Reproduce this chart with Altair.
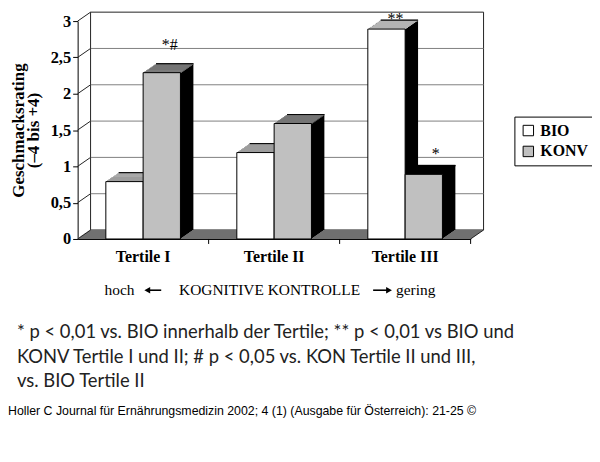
import altair as alt
import pandas as pd

# ---------------- data ----------------
tertiles = ["Tertile I", "Tertile II", "Tertile III"]
groups = ["BIO", "KONV"]
bio_values = [0.79, 1.19, 2.89]
konv_values = [2.29, 1.59, 0.89]
y_ticks = [0, 0.5, 1, 1.5, 2, 2.5, 3]
ann_tertile = ["Tertile I", "Tertile III", "Tertile III"]
ann_group = ["KONV", "BIO", "KONV"]
ann_text = ["*#", "**", "*"]
y_title = ["Geschmacksrating", "(–4 bis +4)"]
axis_note = ["hoch", "KOGNITIVE KONTROLLE", "gering"]
footnote = [
    "* p < 0,01 vs. BIO innerhalb der Tertile; ** p < 0,01 vs BIO und",
    "KONV Tertile I und II; # p < 0,05 vs. KON Tertile II und III,",
    "vs. BIO Tertile II",
]
citation = "Holler C Journal für Ernährungsmedizin 2002; 4 (1) (Ausgabe für Österreich): 21-25 ©"

# ---------------- geometry / style ----------------
W, H = 395, 219
DX, DY = 13.0, 9.0
NS = 9
HALF = 18.75
SERIF = "Liberation Serif"

df_bio = pd.DataFrame({"tertile": tertiles, "group": "BIO", "value": bio_values})
df_konv = pd.DataFrame({"tertile": tertiles, "group": "KONV", "value": konv_values})
df_all = pd.concat([df_bio, df_konv], ignore_index=True)
df_ticks = pd.DataFrame({"level": y_ticks})
df_grid = pd.DataFrame({"level": y_ticks[1:-1]})
one = pd.DataFrame({"a": [0]})

X = alt.X(
    "tertile:N",
    scale=alt.Scale(domain=tertiles, paddingInner=0.7152, paddingOuter=0.3576),
    sort=tertiles,
    axis=alt.Axis(
        title=None, ticks=False, domainColor="black", domainWidth=1,
        labelFont=SERIF, labelFontWeight="bold", labelFontSize=16,
        labelColor="black", labelPadding=10, labelAngle=0,
    ),
)
YSCALE = alt.Scale(domain=[0, 3], nice=False, zero=True)
YAXIS = alt.Axis(
    title=None, values=y_ticks, grid=False, domainColor="black", tickColor="black",
    tickSize=5, labelFont=SERIF, labelFontWeight="bold", labelFontSize=16.5,
    labelColor="black", labelPadding=2,
    labelExpr="replace(format(datum.value, '.1~f'), '.', ',')",
)


def Yq(field):
    return alt.Y(field, type="quantitative", scale=YSCALE, axis=YAXIS)


layers = []

# back wall
layers.append(
    alt.Chart(one).mark_rect(fill="white", stroke="#222", strokeWidth=1,
                             yOffset=-DY, y2Offset=-DY)
    .encode(x=alt.value(DX), x2=alt.value(W + DX),
            y=alt.YDatum(3, scale=YSCALE, axis=YAXIS), y2=alt.datum(0))
)
# back-wall gridlines
layers.append(
    alt.Chart(df_grid).mark_rule(color="#808080", strokeWidth=1, yOffset=-DY)
    .encode(x=alt.value(DX), x2=alt.value(W + DX), y=Yq("level"))
)
# floor (dark parallelogram)
for k in range(NS):
    layers.append(
        alt.Chart(one).mark_rect(fill="#707070", yOffset=-(k + 1) * DY / NS - 0.3,
                                 y2Offset=-k * DY / NS)
        .encode(x=alt.value((k + 0.5) * DX / NS), x2=alt.value(W + (k + 0.5) * DX / NS),
                y=alt.YDatum(0, scale=YSCALE, axis=YAXIS), y2=alt.datum(0))
    )
# left wall edges (diagonals from the axis to the back wall)
layers.append(
    alt.Chart(df_ticks).mark_rule(color="#222", strokeWidth=1, y2Offset=-DY)
    .encode(x=alt.value(0), x2=alt.value(DX), y=Yq("level"), y2=alt.Y2("level"))
)
# right floor edge
layers.append(
    alt.Chart(one).mark_rule(color="#222", strokeWidth=1, y2Offset=-DY)
    .encode(x=alt.value(W), x2=alt.value(W + DX),
            y=alt.YDatum(0, scale=YSCALE, axis=YAXIS), y2=alt.datum(0))
)
# category separator ticks
layers.append(
    alt.Chart(pd.DataFrame({"tertile": tertiles})).mark_rule(
        color="black", strokeWidth=1, xOffset=W / 6)
    .encode(x=X, y=alt.value(H), y2=alt.value(H + 5))
)

fill_scale = alt.Scale(domain=groups, range=["white", "#c0c0c0"])
legend = alt.Legend(
    title=None, orient="none", legendX=439, legendY=96, direction="vertical",
    strokeColor="black", fillColor="white", padding=6, symbolType="square",
    symbolSize=110, symbolStrokeColor="black", symbolStrokeWidth=1,
    labelFont=SERIF, labelFontWeight="bold", labelFontSize=16, labelColor="black",
    rowPadding=5, labelOffset=4,
)

for dfg, base, top_fill in [
    (df_bio, -HALF, alt.value("#b4b4b4")),
    (df_konv, HALF, alt.condition("datum.tertile == 'Tertile III'",
                                  alt.value("black"), alt.value("#858585"))),
]:
    # extruded body (black side)
    for k in range(NS, 0, -1):
        layers.append(
            alt.Chart(dfg).mark_bar(fill="black", strokeWidth=0,
                                    xOffset=base + k * DX / NS,
                                    yOffset=-k * DY / NS, y2Offset=-k * DY / NS)
            .encode(x=X, y=Yq("value"), y2=alt.datum(0))
        )
    # top face
    for k in range(1, NS + 1):
        layers.append(
            alt.Chart(dfg).mark_bar(strokeWidth=0, xOffset=base + k * DX / NS,
                                    yOffset=-k * DY / NS - 0.3,
                                    y2Offset=-(k - 1) * DY / NS)
            .encode(x=X, y=Yq("value"), y2=alt.Y2("value"), fill=top_fill)
        )
    # top face back edge
    layers.append(
        alt.Chart(dfg).mark_bar(fill="none", stroke="black", strokeWidth=0.8,
                                xOffset=base + DX, yOffset=-DY, y2Offset=-DY)
        .encode(x=X, y=Yq("value"), y2=alt.Y2("value"))
    )
    # front face
    layers.append(
        alt.Chart(dfg).mark_bar(stroke="black", strokeWidth=1, xOffset=base)
        .encode(x=X, y=Yq("value"), y2=alt.datum(0),
                fill=alt.Fill("group:N", scale=fill_scale, legend=legend))
    )

# significance annotations
ann_dx = [HALF + 8, -HALF + 9, HALF + 12]
ann_dy = [-23, -5, -15]
for t, g, s, dxo, dyo in zip(ann_tertile, ann_group, ann_text, ann_dx, ann_dy):
    val = df_all[(df_all.tertile == t) & (df_all.group == g)].value.iloc[0]
    d = pd.DataFrame({"tertile": [t], "value": [val], "txt": [s]})
    layers.append(
        alt.Chart(d).mark_text(font=SERIF, fontSize=16, color="black",
                               baseline="alphabetic", align="center",
                               xOffset=dxo, dy=dyo)
        .encode(x=X, y=Yq("value"), text="txt:N")
    )

# y-axis title (two rotated lines)
for txt, xpos in zip(y_title, [-59, -44]):
    layers.append(
        alt.Chart(one).mark_text(text=txt, font=SERIF, fontWeight="bold", fontSize=17,
                                 angle=270, align="center", baseline="middle",
                                 color="black")
        .encode(x=alt.value(xpos), y=alt.value(110))
    )

# x-axis explanatory line
for txt, xpos in zip(axis_note, [27, 102, 320]):
    layers.append(
        alt.Chart(one).mark_text(text=txt, font=SERIF, fontSize=15.5, align="left",
                                 baseline="middle", color="black")
        .encode(x=alt.value(xpos), y=alt.value(270))
    )
# arrows: shaft + filled head
for x1, x2, hx, shape in [(70, 84, 70, "triangle-left"), (297, 312, 313, "triangle-right")]:
    layers.append(
        alt.Chart(one).mark_rule(color="black", strokeWidth=1.6)
        .encode(x=alt.value(x1), x2=alt.value(x2), y=alt.value(270.5))
    )
    layers.append(
        alt.Chart(one).mark_point(shape=shape, filled=True, color="black", size=45,
                                  opacity=1)
        .encode(x=alt.value(hx), y=alt.value(270.5))
    )

# footnote
layers.append(
    alt.Chart(one).mark_text(text=footnote, font="Lato", fontSize=18.5,
                             lineHeight=24.5, align="left", baseline="middle",
                             color="#222")
    .encode(x=alt.value(-61), y=alt.value(313))
)
# citation
layers.append(
    alt.Chart(one).mark_text(text=citation, font="Liberation Sans", fontSize=12.4,
                             align="left", baseline="middle", color="black")
    .encode(x=alt.value(-70), y=alt.value(392))
)

chart = (
    alt.layer(*layers)
    .properties(
        width=W, height=H, autosize=alt.AutoSizeParams(type="none"),
        padding={"left": 70, "top": 12, "right": 122, "bottom": 222},
        background="white",
    )
    .configure_view(stroke=None)
)

chart.save("out.html", embed_options={"renderer": "svg", "actions": False})
